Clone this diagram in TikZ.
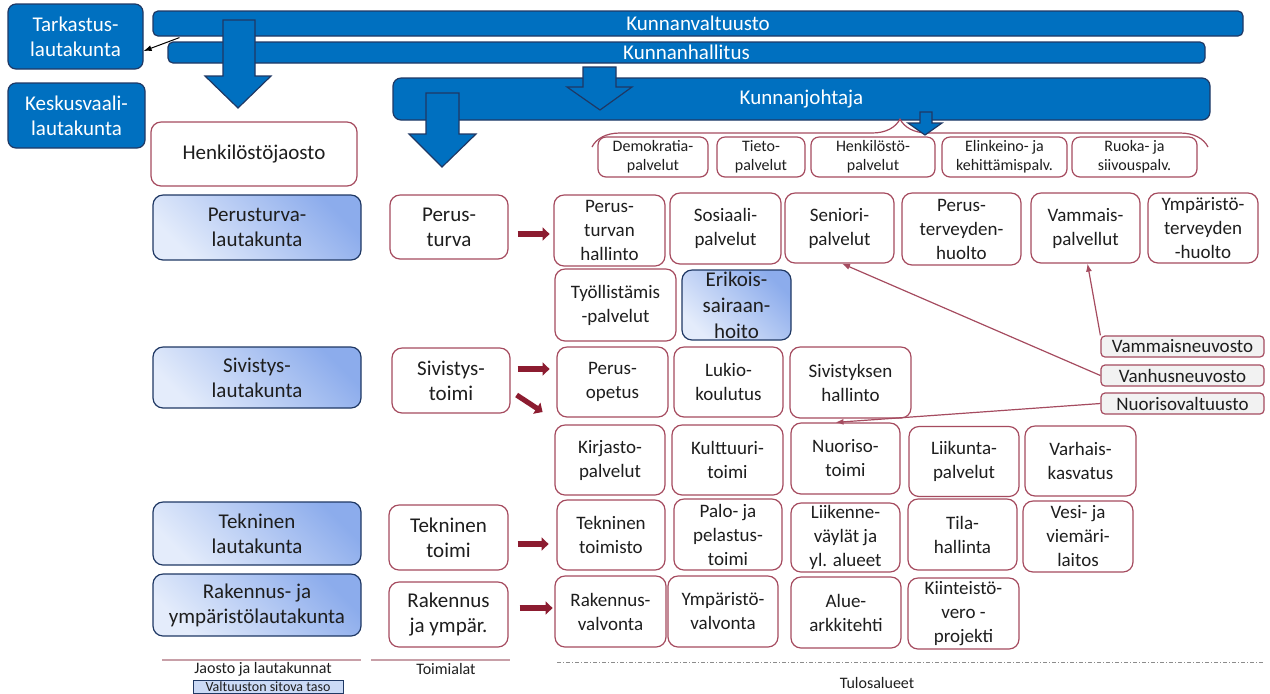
\documentclass[tikz,border=0pt]{standalone}
\usepackage{fontspec}
\setmainfont{Carlito}
\usetikzlibrary{arrows.meta,decorations.pathreplacing}

\definecolor{kblue}{RGB}{0,112,192}
\definecolor{kedge}{RGB}{31,56,100}
\definecolor{lred}{RGB}{165,75,95}
\definecolor{dred}{RGB}{140,28,48}
\definecolor{ltop}{RGB}{140,172,236}
\definecolor{lbot}{RGB}{228,236,251}
\definecolor{txt}{RGB}{30,30,30}
\definecolor{sepline}{RGB}{200,160,168}

\tikzset{
  bluebox/.style={draw=kedge, fill=kblue, text=white, rounded corners=4pt, line width=0.6pt,
    align=center, inner sep=0pt, font=\fontsize{10.5}{12.5}\selectfont},
  bar/.style={bluebox, rounded corners=2.5pt},
  lauta/.style={draw=kedge, rounded corners=5pt, line width=0.6pt, top color=ltop, bottom color=lbot,
    shading angle=-45, align=center, inner sep=0pt, text=txt, font=\fontsize{10.5}{12.5}\selectfont},
  whitebox/.style={draw=lred, fill=white, rounded corners=5pt, line width=0.6pt, align=center,
    inner sep=0pt, text=txt, font=\fontsize{10.5}{12.5}\selectfont},
  unit/.style={whitebox, font=\fontsize{9.5}{12}\selectfont},
  palv/.style={whitebox, rounded corners=4pt, font=\fontsize{8}{9.5}\selectfont},
  neuv/.style={draw=lred, fill=black!5, rounded corners=2pt, line width=0.6pt, inner sep=0pt,
    text=txt, font=\fontsize{9.5}{10}\selectfont},
  barrow/.style={draw=kedge, fill=kblue, line width=0.6pt},
  redarr/.style={draw=dred, line width=2.6pt, -{Triangle[length=3.5pt,width=6.5pt]}},
  thinarr/.style={draw=lred, line width=0.6pt, -{Latex[length=4pt,width=3pt]}},
  lbl/.style={inner sep=0pt, text=txt, font=\fontsize{8}{9.5}\selectfont}
}

\begin{document}
\begin{tikzpicture}[x=0.5pt, y=-0.5pt]
    \useasboundingbox (0,0) rectangle (1270,693);

    \node[bluebox, minimum width=67.5pt, minimum height=32.5pt] (tarka) at (75.5,36.5) {Tarkastus-\\lautakunta};
    \node[bluebox, minimum width=68.5pt, minimum height=32.5pt] (keskv) at (76.5,115.5) {Keskusvaali-\\lautakunta};

    \node[bar, minimum width=545pt, minimum height=12.5pt] (kvalt) at (698,23.5) {Kunnanvaltuusto};
    \node[bar, minimum width=518.5pt, minimum height=10.5pt] (khall) at (686.5,52.5) {Kunnanhallitus};
    \filldraw[barrow] (223,20) -- (255,20) -- (255,76) -- (271,76) -- (238,108) -- (205,76) -- (223,76) -- cycle;
    \draw[line width=0.5pt, -{Latex[length=4pt,width=3pt]}] ([xshift=13.5pt,yshift=-0.5pt]kvalt.south west) -- ([yshift=-7.25pt]tarka.east);

    \node[bluebox, minimum width=408.5pt, minimum height=21pt] (kjoht) at (801.5,99) {Kunnanjohtaja};
    \filldraw[barrow] (583,67) -- (616,67) -- (616,87) -- (632,87) -- (600,110) -- (567,87) -- (583,87) -- cycle;
    \filldraw[barrow] (426,93) -- (459,93) -- (459,134) -- (476,134) -- (442,167) -- (409,134) -- (426,134) -- cycle;

    \draw[lred, line width=0.6pt, decorate, decoration={brace,amplitude=14pt}] (592,147) -- (1208,147);
    \node[palv, minimum width=55pt, minimum height=20pt] (dempal) at (653,157) {Demokratia-\\palvelut};
    \node[palv, minimum width=44pt, minimum height=20pt] (tiepal) at (761,157) {Tieto-\\palvelut};
    \node[palv, minimum width=62pt, minimum height=20pt] (henpal) at (873,157) {Henkilöstö-\\palvelut};
    \node[palv, minimum width=62.5pt, minimum height=20pt] (elipal) at (1004.5,157) {Elinkeino- ja\\kehittämispalv.};
    \node[palv, minimum width=62.5pt, minimum height=20pt] (ruopal) at (1134.5,157) {Ruoka- ja\\siivouspalv.};
    \filldraw[barrow] (920,112) -- (932,112) -- (932,123) -- (942,123) -- (925,135) -- (908,123) -- (920,123) -- cycle;

    \node[whitebox, minimum width=103pt, minimum height=32pt] (hjaos) at (254,154) {Henkilöstöjaosto};
    \node[lauta, minimum width=104pt, minimum height=32.5pt] (perla) at (257,227.5) {Perusturva-\\lautakunta};
    \node[lauta, minimum width=104pt, minimum height=30.5pt] (sivla) at (257,377.5) {Sivistys-\\lautakunta};
    \node[lauta, minimum width=104pt, minimum height=31.5pt] (tekla) at (257,533.5) {Tekninen\\lautakunta};
    \node[lauta, minimum width=104pt, minimum height=31pt] (rakla) at (257,605) {Rakennus- ja\\ympäristölautakunta};

    \node[whitebox, minimum width=59pt, minimum height=32pt] (ptoim) at (449,227) {Perus-\\turva};
    \node[whitebox, minimum width=59pt, minimum height=32.5pt] (stoim) at (451,380.5) {Sivistys-\\toimi};
    \node[whitebox, minimum width=59.5pt, minimum height=32.5pt] (ttoim) at (448.5,537.5) {Tekninen\\toimi};
    \node[whitebox, minimum width=59.5pt, minimum height=32.5pt] (rtoim) at (448.5,614.5) {Rakennus\\ja ympär.};

    \node[unit, minimum width=55.5pt, minimum height=35.5pt] (pthall) at (609.5,230.5) {Perus-\\turvan\\hallinto};
    \node[unit, minimum width=55.5pt, minimum height=35.5pt] (sospal) at (725.5,228.5) {Sosiaali-\\palvelut};
    \node[unit, minimum width=54.5pt, minimum height=35pt] (senpal) at (839.5,228) {Seniori-\\palvelut};
    \node[unit, minimum width=59.5pt, minimum height=36pt] (pthuol) at (961.5,229) {Perus-\\terveyden-\\huolto};
    \node[unit, minimum width=54.5pt, minimum height=35pt] (vampal) at (1085.5,228) {Vammais-\\palvellut};
    \node[unit, minimum width=55pt, minimum height=35pt] (ymphuol) at (1203,228) {Ympäristö-\\terveyden\\-huolto};

    \node[unit, minimum width=60.5pt, minimum height=36pt] (tyopal) at (615.5,305) {Työllistämis\\-palvelut};
    \node[lauta, minimum width=54.5pt, minimum height=35pt, font=\fontsize{10.5}{13}\selectfont] (erisai) at (736.5,305) {Erikois-\\sairaan-\\hoito};

    \node[unit, minimum width=55.5pt, minimum height=35pt] (perope) at (612.5,382) {Perus-\\opetus};
    \node[unit, minimum width=54.5pt, minimum height=35pt] (lukkou) at (728.5,382) {Lukio-\\koulutus};
    \node[unit, minimum width=60.5pt, minimum height=35.5pt] (sivhal) at (850.5,382.5) {Sivistyksen\\hallinto};

    \node[unit, minimum width=55pt, minimum height=35pt] (kirpal) at (610,460) {Kirjasto-\\palvelut};
    \node[unit, minimum width=55.5pt, minimum height=35pt] (kultoi) at (727.5,460) {Kulttuuri-\\toimi};
    \node[unit, minimum width=54.5pt, minimum height=35.5pt] (nuotoi) at (845.5,458.5) {Nuoriso-\\toimi};
    \node[unit, minimum width=55pt, minimum height=35pt] (liipal) at (964,461.5) {Liikunta-\\palvelut};
    \node[unit, minimum width=55.5pt, minimum height=35pt] (varkas) at (1080.5,461) {Varhais-\\kasvatus};

    \node[unit, minimum width=54pt, minimum height=35pt] (tektoi) at (611,535) {Tekninen\\toimisto};
    \node[unit, minimum width=54pt, minimum height=35.5pt] (palpel) at (728,534.5) {Palo- ja\\pelastus-\\toimi};
    \node[unit, minimum width=54.5pt, minimum height=34.5pt] (liivay) at (845.5,537.5) {Liikenne-\\väylät ja\\yl. alueet};
    \node[unit, minimum width=54.5pt, minimum height=35.5pt] (tilhal) at (962.5,534.5) {Tila-\\hallinta};
    \node[unit, minimum width=55pt, minimum height=35.5pt] (vesvie) at (1078,536.5) {Vesi- ja\\viemäri-\\laitos};

    \node[unit, minimum width=55.5pt, minimum height=35.5pt] (rakval) at (610.5,611.5) {Rakennus-\\valvonta};
    \node[unit, minimum width=55pt, minimum height=35.5pt] (ympval) at (723,611.5) {Ympäristö-\\valvonta};
    \node[unit, minimum width=55pt, minimum height=35.5pt] (alearc) at (846,612.5) {Alue-\\arkkitehti};
    \node[unit, minimum width=55.5pt, minimum height=35.5pt] (kiipro) at (963.5,613.5) {Kiinteistö-\\vero -\\projekti};

    \node[neuv, minimum width=81.5pt, minimum height=10.5pt] (vamneu) at (1182.5,346.5) {Vammaisneuvosto};
    \node[neuv, minimum width=81.5pt, minimum height=10.5pt] (vanneu) at (1182.5,375.5) {Vanhusneuvosto};
    \node[neuv, minimum width=81.5pt, minimum height=10.5pt] (nuoval) at (1182.5,403.5) {Nuorisovaltuusto};

    \draw[redarr] ([shift={(4.5pt,-3.5pt)}]ptoim.east) -- ++(16pt,0);
    \draw[redarr] ([shift={(3.5pt,5.75pt)}]stoim.east) -- ++(16pt,0);
    \draw[redarr] ([shift={(3pt,-7.25pt)}]stoim.east) -- ++(13pt,-8.5pt);
    \draw[redarr] ([shift={(4.5pt,-3.25pt)}]ttoim.east) -- ++(15.5pt,0);
    \draw[redarr] ([shift={(5.5pt,3.25pt)}]rtoim.east) -- ++(16.5pt,0);

    \draw[thinarr] (vamneu.north west) -- ([xshift=1pt]vampal.south);
    \draw[thinarr] (vanneu.west) -- ([xshift=1.25pt]senpal.south);
    \draw[thinarr] (nuoval.west) -- ([xshift=-5pt]nuotoi.north);

    \draw[sepline, line width=1pt] (162,660) -- (361,660);
    \draw[sepline, line width=1pt] (371,660) -- (510,660);
    \draw[black!45, line width=0.5pt, dash pattern=on 2pt off 1pt on 0.5pt off 1pt] (557,662) -- (1265,662);
    \node[lbl] (jaolab) at (263,669) {Jaosto ja lautakunnat};
    \node[draw=kedge, fill=ltop!45, line width=0.5pt, inner sep=0pt, minimum width=75pt, minimum height=6.5pt,
      text=txt, font=\fontsize{7}{7}\selectfont] (sitova) at (268,686.5) {Valtuuston sitova taso};
    \node[lbl] (toilab) at (446,669) {Toimialat};
    \node[lbl] (tulab) at (877,683) {Tulosalueet};
\end{tikzpicture}
\end{document}
